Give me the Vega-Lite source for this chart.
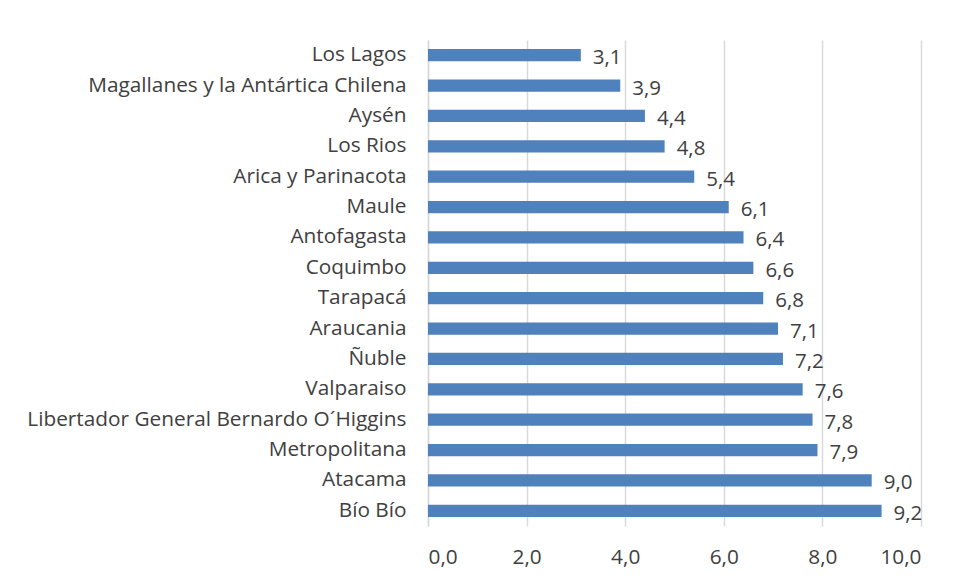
{
  "$schema": "https://vega.github.io/schema/vega-lite/v6.json",
  "autosize": {"type": "none"},
  "width": 493,
  "height": 486,
  "padding": {"left": 428, "top": 40, "right": 36, "bottom": 56},
  "background": "white",
  "config": {
    "locale": {"number": {"decimal": ",", "thousands": ".", "grouping": [3], "currency": ["$", ""]}},
    "view": {"stroke": null},
    "font": "Open Sans",
    "axis": {"labelFont": "Open Sans", "labelColor": "#404040", "labelFontSize": 20.8, "labelLimit": 0}
  },
  "data": {
    "values": [
      {"region": "Los Lagos", "value": 3.1},
      {"region": "Magallanes y la Antártica Chilena", "value": 3.9},
      {"region": "Aysén", "value": 4.4},
      {"region": "Los Rios", "value": 4.8},
      {"region": "Arica y Parinacota", "value": 5.4},
      {"region": "Maule", "value": 6.1},
      {"region": "Antofagasta", "value": 6.4},
      {"region": "Coquimbo", "value": 6.6},
      {"region": "Tarapacá", "value": 6.8},
      {"region": "Araucania", "value": 7.1},
      {"region": "Ñuble", "value": 7.2},
      {"region": "Valparaiso", "value": 7.6},
      {"region": "Libertador General Bernardo O´Higgins", "value": 7.8},
      {"region": "Metropolitana", "value": 7.9},
      {"region": "Atacama", "value": 9.0},
      {"region": "Bío Bío", "value": 9.2}
    ]
  },
  "encoding": {
    "y": {
      "field": "region", "type": "nominal", "sort": null, "title": null,
      "scale": {"paddingInner": 0.6, "paddingOuter": 0.3},
      "axis": {"ticks": false, "labelPadding": 22, "domainColor": "#d9d9d9", "domainWidth": 1.5, "grid": false}
    },
    "x": {
      "field": "value", "type": "quantitative", "title": null,
      "scale": {"domain": [0, 10], "nice": false},
      "axis": {"values": [0, 2, 4, 6, 8, 10], "format": ".1f", "ticks": false, "domain": false, "labelPadding": 21, "gridColor": "#d9d9d9", "gridWidth": 1.5}
    }
  },
  "layer": [
    {"mark": {"type": "bar", "color": "#4f81bd"}},
    {
      "mark": {"type": "text", "align": "left", "dx": 12, "dy": 3, "fontSize": 20.5, "color": "#404040", "font": "Open Sans"},
      "encoding": {"text": {"field": "value", "type": "quantitative", "format": ".1f"}}
    }
  ]
}
